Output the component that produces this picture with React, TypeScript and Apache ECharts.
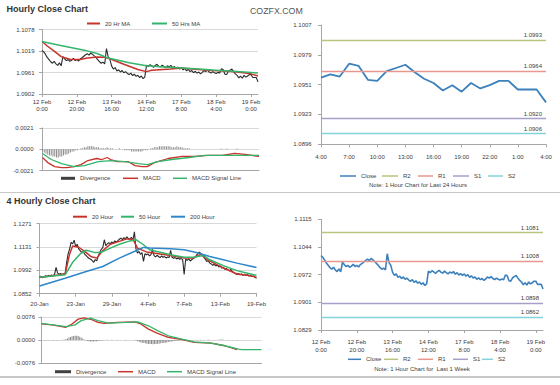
import React, { useEffect, useRef } from 'react';
import * as echarts from 'echarts';

const FONT = "'Liberation Sans', Arial, sans-serif";

// ---------- Hourly data (12 Feb 0:00 .. 19 Feb 4:00) ----------
const hourlyTickLabels = ['12 Feb\n0:00', '12 Feb\n20:00', '13 Feb\n16:00', '14 Feb\n12:00', '17 Feb\n8:00', '18 Feb\n4:00', '19 Feb\n0:00'];
const hourlyClose = [
  1.1021, 1.1017, 1.1010, 1.1002, 1.0996, 1.0990, 1.0986, 1.0991, 1.0984, 1.0980,
  1.0987, 1.0979, 1.1004, 1.0998, 1.0993, 1.0996, 1.0991, 1.0994, 1.0999, 1.0993,
  1.0996, 1.0992, 1.0998, 1.1001, 1.1005, 1.1009, 1.1012, 1.1008, 1.1014, 1.1010,
  1.1006, 1.1001, 1.0996, 1.0990, 1.0986, 1.0989, 1.0984, 1.1026, 1.1003, 1.0996,
  1.0978, 1.0970, 1.0974, 1.0965, 1.0968, 1.0962, 1.0966, 1.0960, 1.0963, 1.0958,
  1.0955, 1.0959, 1.0952, 1.0956, 1.0950, 1.0953, 1.0947, 1.0951, 1.0944, 1.0948,
  1.0981, 1.0977, 1.0982, 1.0979, 1.0975, 1.0980, 1.0983, 1.0978, 1.0976, 1.0981,
  1.0977, 1.0974, 1.0979, 1.0976, 1.0980, 1.0973, 1.0977, 1.0971, 1.0975, 1.0970,
  1.0974, 1.0968, 1.0972, 1.0965, 1.0969, 1.0963, 1.0966, 1.0960, 1.0964, 1.0959,
  1.0962, 1.0957, 1.0961, 1.0966, 1.0963, 1.0967, 1.0962, 1.0959, 1.0963, 1.0960,
  1.0958, 1.0961, 1.0959, 1.0971, 1.0969, 1.0956, 1.0955, 1.0964, 1.0967, 1.0970,
  1.0963, 1.0957, 1.0953, 1.0946, 1.0951, 1.0945, 1.0953, 1.0948, 1.0951, 1.0955,
  1.0955, 1.0947, 1.0947, 1.0947, 1.0935,
];
const ma20Hr: [number, number][] = [
  [0, 1.1046], [3, 1.1033], [7, 1.1019], [11, 1.1004], [16, 1.0997], [22, 1.0996], [26, 1.1000],
  [32, 1.1003], [36, 1.1002], [39, 1.0998], [47, 1.0983], [55, 1.0969], [60, 1.0963], [63, 1.0967],
  [74, 1.0970], [80, 1.0973], [86, 1.0970], [97, 1.0966], [105, 1.0965], [112, 1.0962], [120, 1.0957], [124, 1.0951],
];
const ma50Hr: [number, number][] = [
  [0, 1.1045], [10, 1.1035], [25, 1.1021], [32, 1.1012], [38, 1.1000], [50, 1.0987], [60, 1.0979],
  [70, 1.0976], [80, 1.0973], [90, 1.0970], [100, 1.0967], [110, 1.0964], [120, 1.0961], [124, 1.0959],
];
const hourlyMacd: [number, number][] = [
  [0, -0.0008], [3, -0.0013], [7, -0.0017], [11, -0.0018], [14, -0.0018], [18, -0.0017], [22, -0.0015],
  [26, -0.0011], [31, -0.0009], [34, -0.0010], [37, -0.0008], [39, -0.0010], [43, -0.0012], [49, -0.0012],
  [53, -0.0016], [57, -0.0017], [60, -0.0017], [64, -0.0013], [72, -0.0009], [80, -0.0007], [87, -0.0007],
  [95, -0.0006], [103, -0.0006], [110, -0.0004], [116, -0.0005], [124, -0.0007],
];
const hourlySignal: [number, number][] = [
  [0, -0.0004], [5, -0.0010], [11, -0.0014], [18, -0.0017], [24, -0.0016], [32, -0.0012], [39, -0.0011],
  [47, -0.0012], [55, -0.0014], [60, -0.0015], [66, -0.0012], [74, -0.0010], [84, -0.0008], [93, -0.0006],
  [105, -0.0006], [113, -0.0006], [124, -0.0006],
];
const hourlyDivergence = [
  -0.0002, -0.0003, -0.0004, -0.0005, -0.0006, -0.0006, -0.0007, -0.0007, -0.0008, -0.0008,
  -0.0007, -0.0007, -0.0006, -0.0005, -0.0005, -0.0004, -0.0003, -0.0002, -0.0002, -0.0001,
  -0.0001, 0.0000, 0.0001, 0.0001, 0.0002, 0.0002, 0.0003, 0.0003, 0.0003, 0.0003,
  0.0002, 0.0002, 0.0002, 0.0001, 0.0001, 0.0001, 0.0001, 0.0002, 0.0001, 0.0001,
  0.0001, 0.0000, 0.0000, 0.0000, 0.0001, 0.0000, 0.0000, -0.0001, -0.0001, -0.0001,
  -0.0001, -0.0002, -0.0002, -0.0002, -0.0002, -0.0002, -0.0002, -0.0002, -0.0001, -0.0001,
  -0.0001, 0.0000, 0.0001, 0.0001, 0.0002, 0.0002, 0.0002, 0.0003, 0.0003, 0.0003,
  0.0003, 0.0003, 0.0003, 0.0003, 0.0002, 0.0002, 0.0002, 0.0003, 0.0002, 0.0002,
  0.0002, 0.0001, 0.0001, 0.0001, 0.0001, 0.0000, 0.0000, 0.0000, 0.0000, 0.0000,
  0.0000, 0.0000, 0.0000, 0.0000, 0.0000, 0.0000, 0.0000, 0.0000, 0.0000, 0.0000,
  0.0000, 0.0000, 0.00005, 0.00005, 0.0000, 0.00005, 0.00005, 0.0000, 0.0000, 0.0000,
  0.0000, 0.00005, 0.00005, 0.0000, 0.0000, 0.0000, 0.0000, 0.0000, 0.0000, 0.0000,
  0.0000, 0.0000, 0.0000, 0.0000, 0.0000,
];

// ---------- Last 24 hours ----------
const dayTickLabels = ['4:00', '7:00', '10:00', '13:00', '16:00', '19:00', '22:00', '1:00', '4:00'];
const dayStartIndex = 100;
const levelNames = ['R2', 'R1', 'S1', 'S2'];
const levelColors = ['#b9c47c', '#e8978e', '#a79fc8', '#84d2dc'];
const dayLevels = [1.0993, 1.0964, 1.0920, 1.0906];
const weekLevels = [1.1081, 1.1008, 1.0898, 1.0862];

// ---------- Y tick labels ----------
const hourlyYTicks = ['1.0902', '1.0961', '1.1019', '1.1078'];
const dayYTicks = ['1.0896', '1.0923', '1.0951', '1.0979', '1.1007'];
const weekYTicks = ['1.0829', '1.0901', '1.0972', '1.1044', '1.1115'];
const fourYTicks = ['1.0852', '1.0992', '1.1131', '1.1271'];

// ---------- 4-hourly data ----------
const fourTickLabels = ['20-Jan', '23-Jan', '29-Jan', '4-Feb', '7-Feb', '13-Feb', '19-Feb'];
const fourClose = [
  1.0950, 1.0956, 1.0948, 1.0953, 1.0960, 1.0955, 1.0962, 1.0957, 1.0964, 1.0960,
  1.0968, 1.1010, 1.0975, 1.0969, 1.0973, 1.0966, 1.0971, 1.0968,
  1.1040, 1.1090, 1.1120, 1.1160,
  1.1150, 1.1172, 1.1135, 1.1148, 1.1120, 1.1110, 1.1098, 1.1105,
  1.1088, 1.1080, 1.1070, 1.1062, 1.1058, 1.1050, 1.1040, 1.1056, 1.1048,
  1.1078, 1.1100, 1.1118, 1.1128, 1.1175, 1.1140, 1.1150, 1.1158,
  1.1150, 1.1162, 1.1155, 1.1168, 1.1160, 1.1170, 1.1178, 1.1185, 1.1176, 1.1188, 1.1180,
  1.1192, 1.1182, 1.1178, 1.1190, 1.1172, 1.1222,
  1.1120, 1.1095, 1.1105, 1.1088, 1.1098, 1.1045, 1.1092, 1.1085,
  1.1090, 1.1078, 1.1086, 1.1118, 1.1080, 1.1072, 1.1082, 1.1075, 1.1068, 1.1078, 1.1070, 1.1074, 1.1066, 1.1072, 1.1068,
  1.1112, 1.1070, 1.1064, 1.1068, 1.1060, 1.1066, 1.1058, 1.1062, 1.1056,
  1.0968,
  1.1058, 1.1052, 1.1060, 1.1048, 1.1055, 1.1062, 1.1070, 1.1080,
  1.1092, 1.1100, 1.1094, 1.1085, 1.1070,
  1.1058, 1.1045, 1.1050, 1.1035,
  1.1030, 1.1022, 1.1028, 1.1018, 1.1024, 1.1012, 1.1018, 1.1005, 1.1010,
  1.0998, 1.1004, 1.0995, 1.0990, 1.0998, 1.0985, 1.0978,
  1.0972, 1.0966, 1.0974, 1.0965, 1.0970, 1.0962, 1.0968,
  1.0960, 1.0966, 1.0958, 1.0962, 1.0955, 1.0958, 1.0950, 1.0944,
];
const ma20Hour: [number, number][] = [
  [0, 1.0949], [9, 1.0960], [17, 1.0970], [20, 1.1090], [22, 1.1138], [26, 1.1130], [30, 1.1105],
  [34, 1.1075], [38, 1.1065], [42, 1.1110], [47, 1.1148], [53, 1.1165], [58, 1.1180], [62, 1.1178],
  [65, 1.1125], [71, 1.1102], [80, 1.1090], [87, 1.1080], [96, 1.1065], [102, 1.1065], [107, 1.1088],
  [111, 1.1058], [118, 1.1025], [124, 1.0998], [131, 1.0970], [138, 1.0962], [144, 1.0951],
];
const ma50Hour: [number, number][] = [
  [0, 1.0950], [17, 1.0965], [22, 1.1040], [27, 1.1090], [31, 1.1112], [37, 1.1098], [41, 1.1100],
  [47, 1.1125], [53, 1.1148], [60, 1.1168], [64, 1.1175], [69, 1.1145], [73, 1.1115], [87, 1.1085],
  [96, 1.1070], [102, 1.1070], [109, 1.1080], [113, 1.1055], [122, 1.1020], [131, 1.0990], [138, 1.0975], [144, 1.0962],
];
const ma200Hour: [number, number][] = [
  [0, 1.0898], [17, 1.0945], [31, 1.0985], [42, 1.1015], [53, 1.1065], [64, 1.1109], [69, 1.1129],
  [73, 1.1125], [87, 1.1121], [96, 1.1115], [104, 1.1099], [113, 1.1075], [122, 1.1055], [131, 1.1035], [144, 1.1009],
];
const fourMacd: [number, number][] = [
  [0, 0.0053], [7, 0.0050], [16, 0.0042], [20, 0.0053], [24, 0.0069], [28, 0.0073], [33, 0.0067],
  [37, 0.0058], [41, 0.0055], [50, 0.0058], [61, 0.0060], [65, 0.0053], [70, 0.0036], [76, 0.0022],
  [83, 0.0009], [92, 0.0001], [100, -0.0008], [111, -0.0010], [120, -0.0019], [128, -0.0032],
];
const fourSignal: [number, number][] = [
  [0, 0.0055], [16, 0.0044], [22, 0.0050], [26, 0.0064], [32, 0.0072], [37, 0.0064], [44, 0.0056],
  [55, 0.0058], [63, 0.0060], [70, 0.0047], [76, 0.0031], [83, 0.0014], [92, 0.0003], [100, -0.0006],
  [111, -0.0010], [120, -0.0019], [129, -0.0030], [131, -0.0032], [144, -0.0032],
];
const fourDivergence = [
  -0.0001, 0.0000, -0.0001, -0.0001, 0.0000, -0.0001, 0.0000, -0.0001, -0.0001, 0.0000, -0.0001, 0.0000, -0.0001, 0.0000, 0.0001, 0.0001,
  0.0003, 0.0005, 0.0008, 0.0010, 0.0012, 0.0013, 0.0014, 0.0014, 0.0013, 0.0011, 0.0008, 0.0005, 0.0002,
  -0.0001, -0.0003, -0.0004, -0.0005, -0.0005, -0.0005, -0.0004, -0.0004, -0.0003, -0.0002, -0.0002, -0.0001, -0.0001,
  0.0000, 0.0001, 0.0000, 0.0000, 0.0001, 0.0000, 0.0000, 0.0000, 0.0001, 0.0000, 0.0000, 0.0000, 0.0000, 0.0001, 0.0000, 0.0000, 0.0000, 0.0000, 0.0000, -0.0001, -0.0002,
  -0.0004, -0.0006, -0.0008, -0.0009, -0.0010, -0.0011, -0.0012, -0.0013, -0.0013, -0.0013, -0.0014, -0.0013, -0.0013, -0.0012, -0.0012, -0.0011, -0.0010, -0.0010, -0.0009, -0.0008, -0.0007, -0.0006, -0.0005,
  -0.0004, -0.0003, -0.0003, -0.0002, -0.0002, -0.0001, -0.0001, 0.0000, 0.0000,
  0.0000, -0.0001, 0.0000, 0.0000, -0.0001, 0.0000, 0.0001, 0.0000, 0.0000, 0.0001, 0.0000, -0.0001, 0.0000, 0.0000, 0.0001, 0.0001, 0.0000,
  0.0000, -0.0001, 0.0000, 0.0000, 0.0001, 0.0002, 0.0002, 0.0001, 0.0000, 0.0000, -0.0001, 0.0000, 0.0000, -0.0001, 0.0000, 0.0000, -0.0001,
];

// ---------- helpers ----------
const RED = '#c8322a';
const GREEN = '#34b56c';
const BLUE = '#2f86c8';
const CLOSE_BLUE = '#3c80bc';
const DARK = '#2a2a2a';
const AXIS = '#a6a6a6';
const GRIDC = '#d9d9d9';
const TXT = '#404040';

function scaler(labels: string[]) {
  const lo = parseFloat(labels[0]);
  const hi = parseFloat(labels[labels.length - 1]);
  const n = labels.length - 1;
  return (v: number) => ((v - lo) / (hi - lo)) * n;
}
const tHourly = scaler(hourlyYTicks);
const tDay = scaler(dayYTicks);
const tWeek = scaler(weekYTicks);
const tFour = scaler(fourYTicks);

function catAxis(grid: number, count: number, every: number, labels: string[] | null, margin: number, lineHeight: number) {
  return {
    type: 'category',
    gridIndex: grid,
    data: Array.from({ length: count }, (_, i) => String(i)),
    boundaryGap: false,
    axisLine: { show: true, onZero: false, lineStyle: { color: AXIS, width: 1 } },
    axisTick: { show: !!labels, interval: every - 1, length: 3, lineStyle: { color: AXIS } },
    axisLabel: labels
      ? {
          show: true,
          interval: every - 1,
          margin,
          fontSize: 6,
          lineHeight,
          color: TXT,
          fontFamily: FONT,
          formatter: (_v: string, i: number) => labels[Math.round(i / every)] ?? '',
        }
      : { show: false },
    splitLine: { show: false },
  };
}

function valAxis(grid: number, labels: string[], split: boolean, margin: number) {
  return {
    type: 'value',
    gridIndex: grid,
    min: 0,
    max: labels.length - 1,
    interval: 1,
    axisLine: { show: true, lineStyle: { color: AXIS } },
    axisTick: { show: true, length: 3, lineStyle: { color: AXIS } },
    axisLabel: {
      margin,
      fontSize: 6,
      color: TXT,
      fontFamily: FONT,
      formatter: (v: number) => labels[Math.round(v)] ?? '',
    },
    splitLine: { show: split, lineStyle: { color: GRIDC, width: 1 } },
  };
}

function macdAxis(grid: number, lim: number, margin: number) {
  return {
    type: 'value',
    gridIndex: grid,
    min: -lim,
    max: lim,
    interval: lim,
    axisLine: { show: true, lineStyle: { color: AXIS } },
    axisTick: { show: true, length: 3, lineStyle: { color: AXIS } },
    axisLabel: {
      margin,
      fontSize: 6,
      color: TXT,
      fontFamily: FONT,
      formatter: (v: number) => (Math.abs(v) < 1e-9 ? '0.0000' : v.toFixed(4)),
    },
    splitLine: { show: true, lineStyle: { color: GRIDC, width: 1 } },
  };
}

function leg(name: string, left: number, cy: number, w: number, h: number, color?: string) {
  return {
    data: [{ name, icon: 'rect', itemStyle: color ? { color } : undefined }],
    left,
    top: cy - 4,
    orient: 'horizontal',
    padding: 0,
    itemWidth: w,
    itemHeight: h,
    itemGap: 0,
    itemTextGap: 3,
    selectedMode: false,
    textStyle: { fontSize: 6, color: TXT, fontFamily: FONT, lineHeight: 8 },
  };
}

function line(name: string, x: number, data: any[], color: string, width: number, z = 2) {
  return {
    name,
    type: 'line',
    xAxisIndex: x,
    yAxisIndex: x,
    data,
    showSymbol: false,
    symbol: 'none',
    color,
    itemStyle: { color },
    lineStyle: { color, width },
    z,
  };
}

function level(name: string, x: number, value: number, tv: number, color: string) {
  return {
    name,
    type: 'line',
    xAxisIndex: x,
    yAxisIndex: x,
    data: [],
    color,
    itemStyle: { color },
    lineStyle: { color, width: 1.3 },
    markLine: {
      silent: true,
      symbol: 'none',
      animation: false,
      lineStyle: { color, width: 1.3, type: 'solid' },
      label: {
        show: true,
        position: 'insideEndTop',
        distance: [4, 2],
        formatter: value.toFixed(4),
        fontSize: 6,
        color: TXT,
        fontFamily: FONT,
      },
      data: [{ yAxis: tv }],
    },
  };
}

function buildOption() {
  const dayClose = hourlyClose.slice(dayStartIndex);
  const series: any[] = [
    // top-left hourly
    line('Hourly Close', 0, hourlyClose.map(tHourly), DARK, 1.1, 1),
    line('20 Hr MA', 0, ma20Hr.map(([i, v]) => [i, tHourly(v)]), RED, 1.5, 3),
    line('50 Hrs MA', 0, ma50Hr.map(([i, v]) => [i, tHourly(v)]), GREEN, 1.5, 3),
    // top-left MACD
    { name: 'Divergence', type: 'bar', xAxisIndex: 1, yAxisIndex: 1, data: hourlyDivergence, barWidth: 1, color: '#8c8c8c', itemStyle: { color: '#8c8c8c' } },
    line('MACD', 1, hourlyMacd, RED, 1.3, 3),
    line('MACD Signal Line', 1, hourlySignal, GREEN, 1.3, 3),
    // top-right last 24 hours
    line('Close', 2, dayClose.map(tDay), CLOSE_BLUE, 1.8, 4),
    ...levelNames.map((n, k) => level(n, 2, dayLevels[k], tDay(dayLevels[k]), levelColors[k])),
    // bottom-left 4-hourly
    line('4H Close', 3, fourClose.map(tFour), DARK, 1.1, 1),
    line('20 Hour', 3, ma20Hour.map(([i, v]) => [i, tFour(v)]), RED, 1.5, 3),
    line('50 Hour', 3, ma50Hour.map(([i, v]) => [i, tFour(v)]), GREEN, 1.5, 3),
    line('200 Hour', 3, ma200Hour.map(([i, v]) => [i, tFour(v)]), BLUE, 1.5, 3),
    // bottom-left MACD
    { name: 'Divergence', type: 'bar', xAxisIndex: 4, yAxisIndex: 4, data: fourDivergence, barWidth: 1, color: '#8c8c8c', itemStyle: { color: '#8c8c8c' } },
    line('MACD', 4, fourMacd, RED, 1.3, 3),
    line('MACD Signal Line', 4, fourSignal, GREEN, 1.3, 3),
    // bottom-right last week
    line('Close', 5, hourlyClose.map(tWeek), CLOSE_BLUE, 1.6, 4),
    ...levelNames.map((n, k) => level(n, 5, weekLevels[k], tWeek(weekLevels[k]), levelColors[k])),
  ];

  return {
    animation: false,
    backgroundColor: '#ffffff',
    textStyle: { fontFamily: FONT },
    grid: [
      { left: 42, top: 29.5, width: 216, height: 64.5, containLabel: false },
      { left: 42.5, top: 128, width: 216.5, height: 42.7, containLabel: false },
      { left: 321, top: 25, width: 225, height: 119.3, containLabel: false },
      { left: 39.5, top: 223.7, width: 217, height: 70, containLabel: false },
      { left: 41.5, top: 317, width: 220, height: 46, containLabel: false },
      { left: 321, top: 219.3, width: 222, height: 110.7, containLabel: false },
    ],
    xAxis: [
      catAxis(0, hourlyClose.length, 20, hourlyTickLabels, 5, 6.5),
      catAxis(1, hourlyClose.length, 20, null, 0, 6),
      catAxis(2, hourlyClose.length - dayStartIndex, 3, dayTickLabels, 9.5, 7),
      catAxis(3, fourClose.length, 24, fourTickLabels, 6.8, 7),
      catAxis(4, fourClose.length, 24, null, 0, 6),
      catAxis(5, hourlyClose.length, 20, hourlyTickLabels, 8, 8),
    ],
    yAxis: [
      valAxis(0, hourlyYTicks, true, 7.5),
      macdAxis(1, 0.0021, 9),
      valAxis(2, dayYTicks, false, 9.3),
      valAxis(3, fourYTicks, true, 7.8),
      macdAxis(4, 0.0076, 6.5),
      valAxis(5, weekYTicks, false, 9.3),
    ],
    legend: [
      leg('20 Hr MA', 87, 23.5, 13, 2),
      leg('50 Hrs MA', 152, 23.5, 15, 2),
      leg('Divergence', 61, 178.3, 14, 3, '#404040'),
      leg('MACD', 123, 178.3, 15, 1.5),
      leg('MACD Signal Line', 173, 178.3, 14, 1.5),
      leg('Close', 340, 176, 16, 1.5),
      leg('R2', 382, 176, 16, 1.5),
      leg('R1', 418, 176, 15, 1.5),
      leg('S1', 453, 176, 16, 1.5),
      leg('S2', 488, 176, 15, 1.5),
      leg('20 Hour', 73, 216.7, 14, 2),
      leg('50 Hour', 121, 216.7, 13, 2),
      leg('200 Hour', 171, 216.7, 14, 2),
      leg('Divergence', 55, 371.7, 16, 3, '#404040'),
      leg('MACD', 118, 371.7, 15, 1.5),
      leg('MACD Signal Line', 167, 371.7, 15, 1.5),
      leg('Close', 348, 359.3, 13, 1.5),
      leg('R2', 384, 359.3, 14, 1.5),
      leg('R1', 418, 359.3, 15, 1.5),
      leg('S1', 453, 359.3, 15, 1.5),
      leg('S2', 482, 359.3, 11, 1.5),
    ],
    graphic: [
      { type: 'text', x: 6.5, y: 9, style: { text: 'Hourly Close Chart', fontSize: 9, fontWeight: 'bold', fontFamily: FONT, fill: '#333333', verticalAlign: 'middle' } },
      { type: 'text', x: 250, y: 10.5, style: { text: 'COZFX.COM', fontSize: 8.8, fontFamily: FONT, fill: '#555555', verticalAlign: 'middle' } },
      { type: 'text', x: 6.5, y: 201, style: { text: '4 Hourly Close Chart', fontSize: 9, fontWeight: 'bold', fontFamily: FONT, fill: '#333333', verticalAlign: 'middle' } },
      { type: 'text', x: 418, y: 184.5, style: { text: 'Note: 1 Hour Chart for Last 24 Hours', fontSize: 6, fontFamily: FONT, fill: TXT, align: 'center', verticalAlign: 'middle' } },
      { type: 'text', x: 422, y: 369.3, style: { text: 'Note: 1 Hour Chart for  Last 1 Week', fontSize: 6, fontFamily: FONT, fill: TXT, align: 'center', verticalAlign: 'middle' } },
      { type: 'line', shape: { x1: 0, y1: 192.5, x2: 560, y2: 192.5 }, style: { stroke: '#c8c8c8', lineWidth: 1 } },
      { type: 'line', shape: { x1: 0, y1: 377, x2: 560, y2: 377 }, style: { stroke: '#b4b4b4', lineWidth: 1.5 } },
    ],
    series,
  };
}

export default function App() {
  const ref = useRef<HTMLDivElement>(null);
  useEffect(() => {
    if (!ref.current) return;
    const chart = echarts.init(ref.current, undefined, { renderer: 'svg', width: 560, height: 385 });
    chart.setOption(buildOption() as any);
    return () => chart.dispose();
  }, []);
  return (
    <div
      ref={ref}
      style={{ position: 'absolute', left: 0, top: 0, width: 560, height: 385, background: '#ffffff' }}
    />
  );
}
